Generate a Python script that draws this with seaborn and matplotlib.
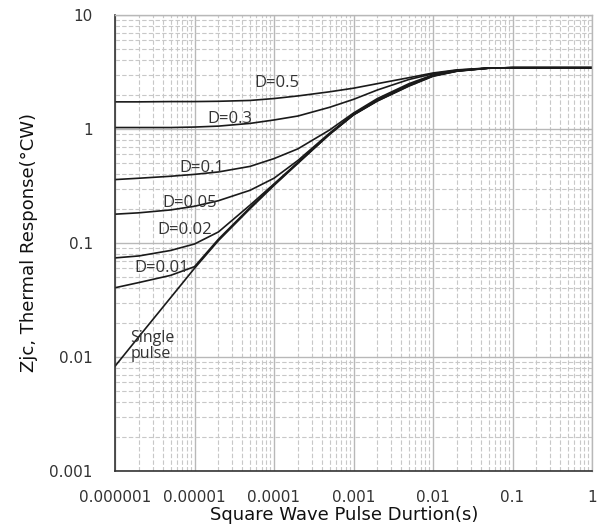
import numpy as np
import pandas as pd
import matplotlib
matplotlib.use("Agg")
import matplotlib.pyplot as plt
from matplotlib.ticker import LogLocator, NullFormatter
import seaborn as sns

# ---- data ----
pulse_width = [1e-6, 2e-6, 5e-6, 1e-5, 2e-5, 5e-5, 1e-4, 2e-4, 5e-4,
               1e-3, 2e-3, 5e-3, 1e-2, 2e-2, 5e-2, 0.1, 1]
d_050 = [1.73, 1.73, 1.74, 1.74, 1.75, 1.78, 1.85, 1.95, 2.12, 2.28, 2.5, 2.82, 3.1, 3.3, 3.43, 3.45, 3.45]
d_030 = [1.03, 1.03, 1.03, 1.04, 1.06, 1.12, 1.2, 1.3, 1.55, 1.82, 2.2, 2.72, 3.05, 3.28, 3.42, 3.45, 3.45]
d_010 = [0.36, 0.37, 0.385, 0.40, 0.42, 0.47, 0.55, 0.67, 0.98, 1.38, 1.85, 2.5, 2.98, 3.25, 3.42, 3.45, 3.45]
d_005 = [0.179, 0.184, 0.195, 0.21, 0.235, 0.29, 0.37, 0.53, 0.92, 1.36, 1.8, 2.45, 2.95, 3.24, 3.42, 3.45, 3.45]
d_002 = [0.074, 0.077, 0.086, 0.098, 0.125, 0.215, 0.33, 0.51, 0.9, 1.34, 1.78, 2.42, 2.93, 3.23, 3.42, 3.45, 3.45]
d_001 = [0.0405, 0.045, 0.052, 0.062, 0.108, 0.205, 0.325, 0.505, 0.9, 1.33, 1.77, 2.4, 2.92, 3.22, 3.42, 3.45, 3.45]
single = [0.0083, 0.0151, 0.0331, 0.060, 0.105, 0.2, 0.32, 0.5, 0.9, 1.33, 1.76, 2.38, 2.9, 3.21, 3.41, 3.45, 3.45]

series_names = ["D=0.5", "D=0.3", "D=0.1", "D=0.05", "D=0.02", "D=0.01", "Single\npulse"]
series_values = [d_050, d_030, d_010, d_005, d_002, d_001, single]

x_ticks = [1e-6, 1e-5, 1e-4, 1e-3, 1e-2, 1e-1, 1]
x_tick_labels = ["0.000001", "0.00001", "0.0001", "0.001", "0.01", "0.1", "1"]
y_ticks = [0.001, 0.01, 0.1, 1, 10]
y_tick_labels = ["0.001", "0.01", "0.1", "1", "10"]

x_label = "Square Wave Pulse Durtion(s)"
y_label = "Zjc, Thermal Response(°CW)"

# label anchor positions (data coords)
label_x = [1.09e-4, 2.8e-5, 1.24e-5, 8.8e-6, 7.6e-6, 3.9e-6, 1.55e-6]
label_y = [2.53, 1.22, 0.455, 0.224, 0.13, 0.060, 0.0125]

df = pd.DataFrame({
    "t": np.tile(pulse_width, len(series_values)),
    "z": np.concatenate(series_values),
    "series": np.repeat(series_names, len(pulse_width)),
})

sns.set_style("white")
plt.rcParams["font.family"] = ["DejaVu Sans"]

fig = plt.figure(figsize=(5.97, 5.29), dpi=100)
ax = fig.add_axes([115 / 597, 1 - 471 / 529, 477 / 597, 456 / 529])

sns.lineplot(data=df, x="t", y="z", hue="series", palette=["#1a1a1a"] * len(series_names),
             legend=False, linewidth=1.2, ax=ax, sort=False, estimator=None)

ax.set_xscale("log")
ax.set_yscale("log")
ax.set_xlim(1e-6, 1)
ax.set_ylim(1e-3, 10)

ax.set_xticks(x_ticks)
ax.set_xticklabels(x_tick_labels)
ax.set_yticks(y_ticks)
ax.set_yticklabels(y_tick_labels)
ax.xaxis.set_minor_locator(LogLocator(base=10, subs=np.arange(2, 10), numticks=20))
ax.yaxis.set_minor_locator(LogLocator(base=10, subs=np.arange(2, 10), numticks=20))
ax.xaxis.set_minor_formatter(NullFormatter())
ax.yaxis.set_minor_formatter(NullFormatter())

ax.grid(True, which="major", color="#b8b8b8", linewidth=1.0, linestyle="-")
ax.grid(True, which="minor", color="#c8c8c8", linewidth=0.8, linestyle=(0, (4, 2)))
ax.set_axisbelow(True)

for s in ["top", "right"]:
    ax.spines[s].set_color("#b8b8b8")
    ax.spines[s].set_linewidth(1.0)
for s in ["left", "bottom"]:
    ax.spines[s].set_color("#333333")
    ax.spines[s].set_linewidth(1.2)

ax.tick_params(axis="both", which="major", direction="out", length=4.5, width=1.2,
               color="#333333", labelsize=11, labelcolor="#333333")
ax.tick_params(axis="x", which="major", pad=9)
ax.tick_params(axis="y", which="major", pad=11.5)
ax.tick_params(axis="both", which="minor", length=0)
ax.tick_params(top=False, right=False)

ax.set_xlabel(x_label, fontsize=13, color="#111111", labelpad=1)
ax.xaxis.label.set_x((344 - 115) / 477)
ax.set_ylabel(y_label, fontsize=13, color="#111111", labelpad=8)

for name, lx, ly in zip(series_names, label_x, label_y):
    if name.startswith("Single"):
        ax.text(lx, ly, name, ha="left", va="center", fontsize=11.5,
                family=["Open Sans", "DejaVu Sans"], color="#333333", linespacing=1.0)
    else:
        ax.text(lx, ly, name, ha="center", va="center", fontsize=12,
                family=["Open Sans", "DejaVu Sans"], color="#333333")

fig.savefig("out.png", dpi=100)
